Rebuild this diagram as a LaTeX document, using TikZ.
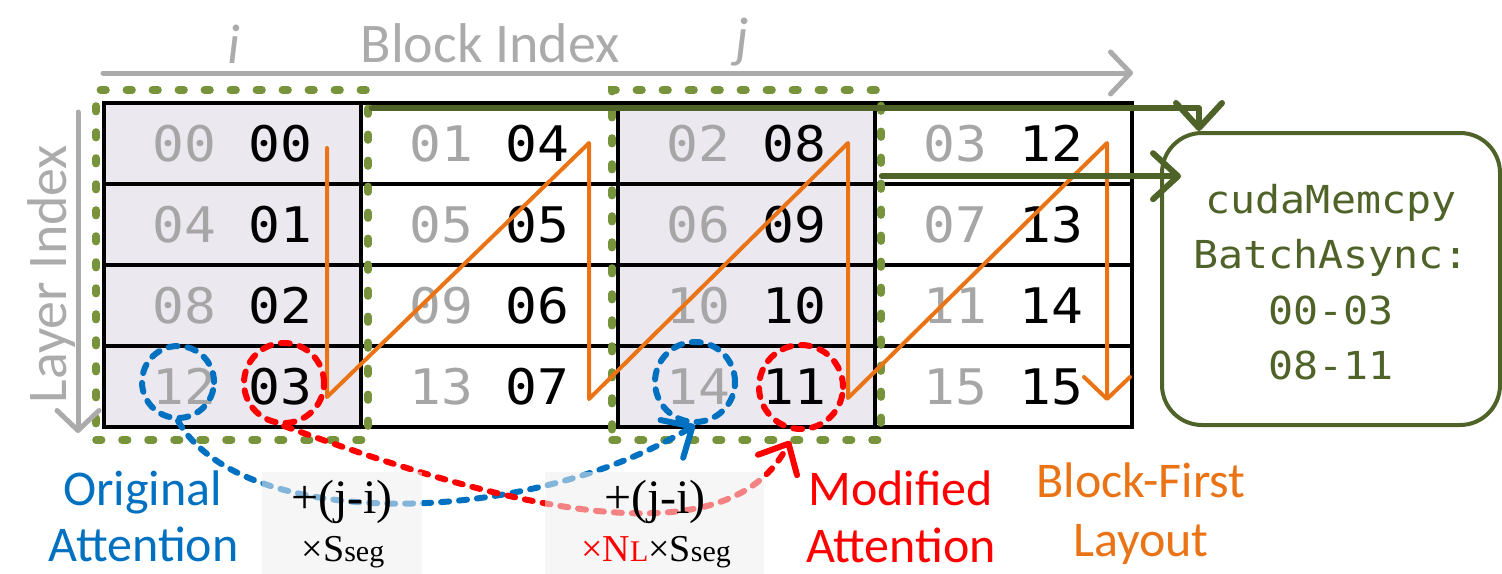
\documentclass[tikz,border=0pt]{standalone}
\usepackage{fontspec}
\setmainfont{Carlito}
\newfontfamily\monof[FakeStretch=1.08]{DejaVu Sans Mono}
\newfontfamily\serf{Liberation Serif}
\usetikzlibrary{arrows.meta,calc}

\definecolor{numgray}{HTML}{A6A6A6}
\definecolor{axisgray}{HTML}{ABABAB}
\definecolor{cellshade}{HTML}{EBE8F0}
\definecolor{grpgreen}{HTML}{77933C}
\definecolor{darkolive}{HTML}{4F6228}
\definecolor{zigorange}{HTML}{EA7415}
\definecolor{attblue}{HTML}{0070C0}
\definecolor{attred}{HTML}{FF0000}
\definecolor{formbg}{HTML}{EEEEEE}

% two-digit index with a leading zero
\newcommand{\twodig}[1]{\ifnum#1<10 0\fi#1}

\begin{document}
\begin{tikzpicture}[x=0.5pt,y=-0.5pt,
  cell/.style={draw=black, line width=2pt, minimum width=128.5pt, minimum height=40.5pt,
    inner sep=0pt, font=\monof\fontsize{24.5}{29}\selectfont},
  grp/.style={draw=grpgreen, line width=3.8pt, line cap=round, dash pattern=on 2.8pt off 10.2pt, inner sep=0pt},
  axisarrow/.style={draw=axisgray, line width=2.5pt, line cap=round, -{Straight Barb[round,length=10pt,width=21pt]}},
  zigzag/.style={draw=zigorange, line width=2pt, line join=round, line cap=round, -{Straight Barb[round,length=11pt,width=23pt]}},
  feed/.style={draw=darkolive, line width=3pt, line cap=round, line join=round, -{Straight Barb[round,length=12.5pt,width=23pt]}},
  ring/.style={circle, line width=3pt, line cap=round, dash pattern=on 4.5pt off 5pt, inner sep=0pt},
  hop/.style={line width=3pt, line cap=round, dash pattern=on 4pt off 5pt, -{Straight Barb[round,length=12pt,width=22pt]}},
  formbox/.style={fill=formbg, fill opacity=0.55, inner sep=0pt},
  formtxt/.style={anchor=base, inner sep=0pt, text=black, font=\serf\fontsize{24}{28}\selectfont},
  memtxt/.style={anchor=base, inner sep=0pt, text=darkolive, font=\monof\fontsize{19.25}{23}\selectfont},
  lbl/.style={anchor=base, inner sep=0pt, font=\fontsize{25}{30}\selectfont},
  axislbl/.style={anchor=base, inner sep=0pt, text=axisgray, font=\fontsize{28}{34}\selectfont}
]
\useasboundingbox (0,0) rectangle (1502,573);

% memory grid: layer-major index (gray) and block-first index (black)
\foreach \r in {0,...,3}{
  \foreach \c in {0,...,3}{
    \pgfmathtruncatemacro{\g}{4*\r+\c}
    \pgfmathtruncatemacro{\b}{4*\c+\r}
    \pgfmathsetmacro{\cx}{232.5+257*\c}
    \pgfmathsetmacro{\cy}{143.5+81*\r}
    \ifodd\c \def\cf{white}\else\def\cf{cellshade}\fi
    \node[cell, fill=\cf] (c-\r-\c) at (\cx,\cy) {\textcolor{numgray}{\twodig{\g}}\ \twodig{\b}};
  }
}

% selected blocks
\node[grp, minimum width=136pt, minimum height=175pt] (grp-i) at (232,265) {};
\node[grp, minimum width=134.5pt, minimum height=175pt] (grp-j) at (746.5,265) {};

% axes
\coordinate (bx0) at (103,73);
\coordinate (bx1) at (1133,73);
\draw[axisarrow] (bx0) -- (bx1);
\coordinate (ly0) at (78,112);
\coordinate (ly1) at (78,433);
\draw[axisarrow] (ly0) -- (ly1);
\node[axislbl] (blk) at (490,62) {Block Index};
\node[axislbl, font=\itshape\fontsize{28}{34}\selectfont] (ii) at (234,63) {i};
\node[axislbl, font=\itshape\fontsize{28}{34}\selectfont] (jj) at (742,56) {j};
\node[axislbl, rotate=90] (lay) at (66,274) {Layer Index};

% block-first traversal order
\draw[zigzag] (327,148) -- (327,397) -- (589,143) -- (589,399) -- (848,143) -- (848,398) -- (1107,143) -- (1107,401);

% batched copy
\node[draw=darkolive, line width=2pt, rounded corners=20pt, minimum width=169pt, minimum height=146pt, inner sep=0pt] (memcpy) at (1331,279) {};
\node[memtxt] (m1) at (1331,213) {cudaMemcpy};
\node[memtxt] (m2) at (1331,268.5) {BatchAsync:};
\node[memtxt] (m3) at (1331,324) {00-03};
\node[memtxt] (m4) at (1331,379.5) {08-11};

\coordinate (k1) at (1199,0);
\draw[feed] ($(grp-i.north east)+(0,22)$) -| (k1 |- memcpy.north);
\draw[feed] ($(grp-j.north east)+(-3,90)$) -- ($(memcpy.west |- grp-j.north east)+(21,90)$);

% attention offsets
\node[ring, draw=attblue, minimum size=36pt] (o12) at (178,382) {};
\node[ring, draw=attred, minimum size=40pt] (m03) at (284,383) {};
\node[ring, draw=attblue, minimum size=40pt] (o14) at (695,382) {};
\node[ring, draw=attred, minimum size=42pt] (m11) at (801,387) {};

\draw[hop, attblue] (o12.south) .. controls (240,530) and (520,530) .. (o14.south);
\draw[hop, attred] (m03.south) .. controls (460,490) and (720,575) .. ($(m11.south)+(-11,9)$);

% offset formulas
\node[formbox, minimum width=80pt, minimum height=52pt] (fb1) at (342,524) {};
\node[formbox, minimum width=109.5pt, minimum height=52pt] (fb2) at (654.5,524) {};
\node[formtxt] (f1a) at (342,513) {+(j-i)};
\node[formtxt] (f1b) at (343,561) {\fontsize{19}{22}\selectfont ×S{\fontsize{15}{17}\selectfont seg}};
\node[formtxt] (f2a) at (655,513) {+(j-i)};
\node[formtxt] (f2b) at (656,561) {\fontsize{19}{22}\selectfont\textcolor{attred}{×N{\fontsize{15}{17}\selectfont L}}×S{\fontsize{15}{17}\selectfont seg}};

% captions
\node[lbl, text=attblue] (orig1) at (142.5,505) {Original};
\node[lbl, text=attblue] (orig2) at (143.5,561) {Attention};
\node[lbl, text=attred] (mod1) at (900.5,505) {Modified};
\node[lbl, text=attred] (mod2) at (901,562) {Attention};
\node[lbl, text=zigorange] (bf1) at (1141,497) {Block-First};
\node[lbl, text=zigorange] (bf2) at (1141,556) {Layout};
\end{tikzpicture}
\end{document}
